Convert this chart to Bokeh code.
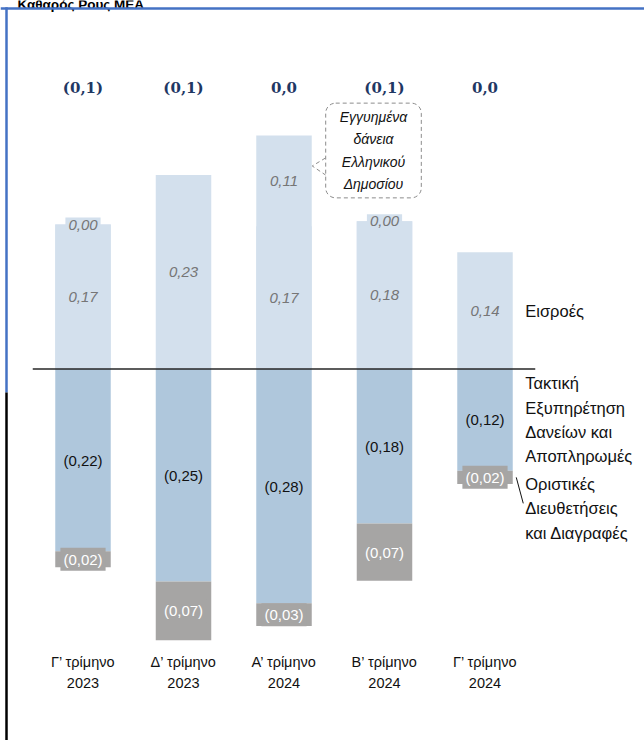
from bokeh.plotting import figure
from bokeh.models import ColumnDataSource, Range1d
from bokeh.core.properties import value
from bokeh.embed import file_html
from bokeh.resources import INLINE

# ---------------- data ----------------
title_text = "Καθαρός Ρους ΜΕΑ"
categories = ["Γ’ τρίμηνο\n2023", "Δ’ τρίμηνο\n2023", "Α’ τρίμηνο\n2024",
              "Β’ τρίμηνο\n2024", "Γ’ τρίμηνο\n2024"]
inflows = [0.172, 0.231, 0.170, 0.176, 0.139]
guaranteed_loans = [0.0, None, 0.108, 0.0, None]
repayments = [-0.217, -0.253, -0.279, -0.184, -0.121]
settlements = [-0.019, -0.070, -0.027, -0.068, -0.016]
net_labels = ["(0,1)", "(0,1)", "0,0", "(0,1)", "0,0"]
series_names = ["Εισροές",
                "Τακτική\nΕξυπηρέτηση\nΔανείων και\nΑποπληρωμές",
                "Οριστικές\nΔιευθετήσεις\nκαι Διαγραφές"]
callout_text = "Εγγυημένα\nδάνεια\nΕλληνικού\nΔημοσίου"

# ---------------- geometry / styles ----------------
W, H = 644, 740
PXX, PXY = 100.5, 840.0
ZX, ZY = 82.5, 368.5          # pixel position of x=0 and y=0
x0 = -ZX / PXX
x1 = x0 + W / PXX
y1 = ZY / PXY
y0 = y1 - H / PXY


def dx(px):
    return px / PXX


def dy(px):
    return px / PXY


C_IN = "#D3E0ED"
C_REP = "#AFC7DC"
C_SET = "#A6A5A4"
C_NET = "#1F3864"
FONT = "Liberation Sans"


def fmt(v):
    s = f"{abs(v):.2f}".replace(".", ",")
    return f"({s})" if v < 0 else s


n = len(categories)
xs = list(range(n))
bw = dx(55.5)

p = figure(width=W, height=H, x_range=Range1d(x0, x1), y_range=Range1d(y0, y1),
           x_axis_type=None, y_axis_type=None, output_backend="svg",
           toolbar_location=None, min_border=0, outline_line_color=None,
           background_fill_color="white", border_fill_color="white")
p.grid.visible = False

# ---------------- bars ----------------
g_idx = [i for i in xs if guaranteed_loans[i] is not None]
src_in = ColumnDataSource(dict(x=xs, top=inflows, bottom=[0] * n,
                               ly=[v / 2 for v in inflows],
                               lab=[fmt(v) for v in inflows]))
# guaranteed loans stacked on the inflows (drawn from 0 so that no seam shows: same colour)
src_g = ColumnDataSource(dict(x=g_idx,
                              bottom=[0] * len(g_idx),
                              top=[inflows[i] + guaranteed_loans[i] for i in g_idx],
                              ly=[inflows[i] + guaranteed_loans[i] / 2 for i in g_idx],
                              lab=[fmt(guaranteed_loans[i]) for i in g_idx]))
src_rep = ColumnDataSource(dict(x=xs, top=[0] * n, bottom=repayments,
                                ly=[v / 2 for v in repayments],
                                lab=[fmt(v) for v in repayments]))
src_set = ColumnDataSource(dict(x=xs, top=repayments,
                                bottom=[r + s for r, s in zip(repayments, settlements)],
                                ly=[r + s / 2 for r, s in zip(repayments, settlements)],
                                lab=[fmt(v) for v in settlements]))

p.vbar(x="x", top="top", bottom="bottom", width=bw, source=src_in, fill_color=C_IN, line_color=None)
p.vbar(x="x", top="top", bottom="bottom", width=bw, source=src_g, fill_color=C_IN, line_color=None)
p.vbar(x="x", top="top", bottom="bottom", width=bw, source=src_rep, fill_color=C_REP, line_color=None)
p.vbar(x="x", top="top", bottom="bottom", width=bw, source=src_set, fill_color=C_SET, line_color=None)

# zero line
p.line([-0.5, n - 0.5], [0, 0], line_color="#262626", line_width=1.5)

# ---------------- value labels ----------------
p.text(x="x", y="ly", text="lab", source=src_in, text_align="center", text_baseline="middle",
       text_font=value(FONT), text_font_size="15px", text_font_style="italic", text_color="#767676")
p.text(x="x", y="ly", text="lab", source=src_g, text_align="center", text_baseline="middle",
       text_font=value(FONT), text_font_size="15px", text_font_style="italic", text_color="#767676",
       background_fill_color=C_IN, padding=(3, 2))
p.text(x="x", y="ly", text="lab", source=src_rep, text_align="center", text_baseline="middle",
       text_font=value(FONT), text_font_size="15px", text_color="#111111")
p.text(x="x", y="ly", text="lab", source=src_set, text_align="center", text_baseline="middle",
       text_font=value(FONT), text_font_size="15px", text_color="white",
       background_fill_color=C_SET, padding=(3, 3))

# net flow labels
p.text(x=xs, y=[dy(ZY - 87)] * n, text=net_labels, text_align="center", text_baseline="middle",
       text_font=value("DejaVu Serif"), text_font_size="15px", text_font_style="bold",
       text_color=C_NET)

# category labels
p.text(x=xs, y=[-dy(672 - ZY)] * n, text=categories, text_align="center",
       text_baseline="middle", text_font=value(FONT), text_font_size="14.5px",
       text_line_height=1.35, text_color="#111111")

# ---------------- right-hand series names ----------------
last = n - 1
lx = last + bw / 2 + dx(12.5)
set_mid = repayments[last] + settlements[last] / 2
p.text(x=[lx] * 3,
       y=[inflows[last] / 2, repayments[last] / 2, set_mid - dy(31)],
       text=series_names, text_align="left", text_baseline="middle",
       text_font=value(FONT), text_font_size="16.5px", text_line_height=1.35,
       text_color="#111111")
rx = last + bw / 2
p.line([rx + dx(3.5), rx + dx(10.5)], [set_mid, set_mid - dy(26)],
       line_color="#111111", line_width=1)

# ---------------- callout ----------------
ci = 2
top3 = inflows[ci] + (guaranteed_loans[ci] or 0)
p.text(x=[ci + dx(89.5)], y=[dy(ZY - 150)], text=[callout_text], text_align="center",
       text_baseline="middle", text_font=value(FONT), text_font_size="14px",
       text_font_style="italic", text_line_height=1.39, text_color="#111111",
       border_line_color="#8C8C8C", border_line_dash="4 3", border_line_width=1,
       border_radius=10, padding=(14, 6), background_fill_color="white")
tip_x = ci + bw / 2 + dx(0.5)
tip_y = top3 - dy(30.5)
box_x = ci + dx(41.5)
p.line([box_x, tip_x, box_x], [tip_y + dy(8), tip_y, tip_y - dy(9)],
       line_color="#8C8C8C", line_dash="4 3", line_width=1)

# ---------------- title (cut off at the top, as in the original) and frame ----------------
p.text(x=[x0 + dx(17)], y=[y1 - dy(4)], text=[title_text], text_align="left",
       text_baseline="alphabetic", text_font=value(FONT), text_font_size="13.5px",
       text_font_style="bold", text_color="#000000")
p.line([x0, x1], [y1 - dy(8), y1 - dy(8)], line_color="#4472C4", line_width=2.5)
p.line([x0 + dx(6), x0 + dx(6)], [y1 - dy(6.75), -dy(392 - ZY)],
       line_color="#4472C4", line_width=2.5)
p.line([x0 + dx(6), x0 + dx(6)], [-dy(392 - ZY), y0],
       line_color="#000000", line_width=2.5)

open("out.html", "w").write(file_html(p, INLINE))
